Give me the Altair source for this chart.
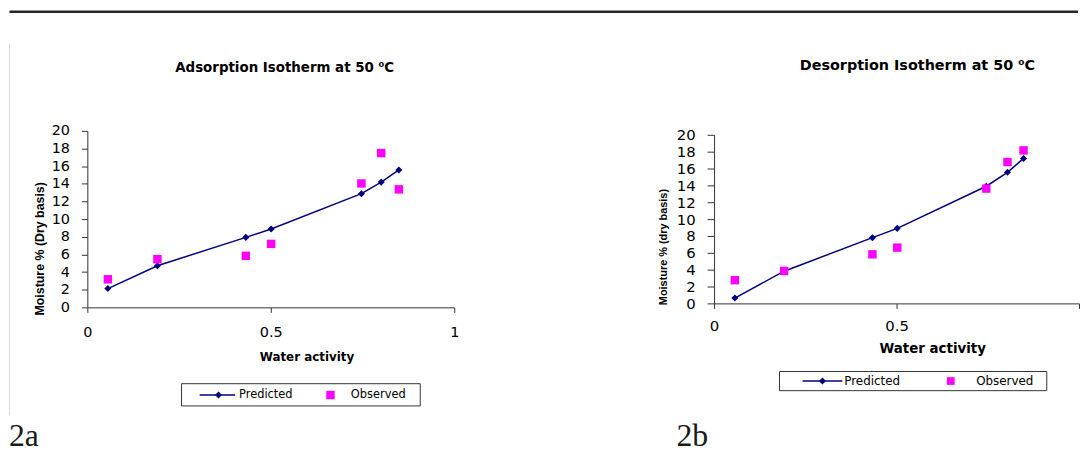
import altair as alt
import pandas as pd

# ---- data ----
aw_ads = [0.056, 0.191, 0.432, 0.501, 0.747, 0.801, 0.849]
pred_ads = [2.13, 4.72, 7.93, 8.88, 12.88, 14.19, 15.57]
obs_ads = [3.18, 5.46, 5.84, 7.19, 14.04, 17.48, 13.37]

aw_des = [0.057, 0.192, 0.434, 0.502, 0.746, 0.804, 0.848]
pred_des = [0.63, 3.82, 7.80, 8.90, 13.90, 15.55, 17.20]
obs_des = [2.75, 3.85, 5.82, 6.62, 13.62, 16.77, 18.15]

x_ticks = [0, 0.5, 1]
y_ticks = [0, 2, 4, 6, 8, 10, 12, 14, 16, 18, 20]

titles = ["Adsorption Isotherm at 50 \u2070C", "Desorption Isotherm at 50 \u2070C"]
y_titles = ["Moisture % (Dry basis)", "Moisture % (dry basis)"]
x_title = "Water activity"
legend_labels = ["Predicted", "Observed"]
panel_labels = ["2a", "2b"]

NAVY = "#000080"
MAGENTA = "#FF00FF"
one = pd.DataFrame({"k": [0]})


def panel(aw, pred, obs, w, h, lay, extra_x_axis=None):
    df = pd.DataFrame({"aw": aw, "pred": pred, "obs": obs})
    xs = alt.Scale(domain=[0, 1], nice=False, zero=False)
    ys = alt.Scale(domain=[0, 20], nice=False)
    xkw = dict(values=x_ticks, format="~g", title=x_title,
               titleX=lay["xtx"], titleY=lay["xty"], titleAlign="center",
               titleBaseline="middle", titleFontSize=lay["xtfs"],
               titleFont="DejaVu Sans", titleFontWeight="bold",
               labelPadding=lay["xlp"], tickSize=5,
               labelFontSize=lay["lfs"])
    if extra_x_axis:
        xkw.update(extra_x_axis)
    xaxis = alt.Axis(**xkw)
    yaxis = alt.Axis(values=y_ticks, format="d", title=lay["ytitle"],
                     titleX=lay["ytx"], titleY=lay["yty"], titleAlign="center",
                     titleBaseline="middle", titleFontSize=lay["ytfs"],
                     titleFont="Liberation Sans", titleFontWeight="bold",
                     labelPadding=12, tickSize=lay["yts"],
                     labelFontSize=lay["lfs"])
    base = alt.Chart(df)
    line = base.mark_line(color=NAVY, strokeWidth=1.5).encode(
        x=alt.X("aw:Q", scale=xs, axis=xaxis),
        y=alt.Y("pred:Q", scale=ys, axis=yaxis))
    dia = base.mark_point(shape="diamond", filled=True, color=NAVY, size=50, opacity=1).encode(
        x=alt.X("aw:Q", scale=xs, axis=xaxis),
        y=alt.Y("pred:Q", scale=ys, axis=yaxis))
    sq = base.mark_square(color=MAGENTA, size=72, opacity=1).encode(
        x=alt.X("aw:Q", scale=xs, axis=xaxis),
        y=alt.Y("obs:Q", scale=ys, axis=yaxis))

    a = alt.Chart(one)
    title = a.mark_text(font="DejaVu Sans", fontWeight="bold", fontSize=lay["tfs"],
                        align="center", baseline="middle", color="black").encode(
        x=alt.value(lay["tx"]), y=alt.value(lay["ty"]), text=alt.value(lay["title"]))
    lb = lay["lbox"]
    box = a.mark_rect(fill="white", stroke="#333333", strokeWidth=1).encode(
        x=alt.value(lb[0]), x2=alt.value(lb[1]), y=alt.value(lb[2]), y2=alt.value(lb[3]))
    ly = lay["ly"]
    lline = a.mark_rule(color=NAVY, strokeWidth=1.5).encode(
        x=alt.value(lay["l1"][0]), x2=alt.value(lay["l1"][1]), y=alt.value(ly))
    ldia = a.mark_point(shape="diamond", filled=True, color=NAVY, size=50, opacity=1).encode(
        x=alt.value(lay["ldia"]), y=alt.value(ly))
    lt1 = a.mark_text(font="DejaVu Sans", fontSize=lay["lgfs"], align="left",
                      baseline="middle", color="black").encode(
        x=alt.value(lay["lt1"]), y=alt.value(ly), text=alt.value(legend_labels[0]))
    lsq = a.mark_square(color=MAGENTA, size=lay["lsqs"], opacity=1).encode(
        x=alt.value(lay["lsq"]), y=alt.value(ly))
    lt2 = a.mark_text(font="DejaVu Sans", fontSize=lay["lgfs"], align="left",
                      baseline="middle", color="black").encode(
        x=alt.value(lay["lt2"]), y=alt.value(ly), text=alt.value(legend_labels[1]))

    layers = lay.get("pre", []) + [line, dia, sq, title, box, lline, ldia, lt1, lsq, lt2] + lay.get("post", [])
    return alt.layer(*layers).properties(width=w, height=h)


a = alt.Chart(one)
top_rule = a.mark_rule(color="#262626", strokeWidth=2.5).encode(
    x=alt.value(-78.5), x2=alt.value(999), y=alt.value(-120))
left_border = a.mark_rule(color="#d9d9d9", strokeWidth=1).encode(
    x=alt.value(-78.5), y=alt.value(-88), y2=alt.value(287))
lab_a = a.mark_text(font="Liberation Serif", fontSize=32, align="left",
                    baseline="alphabetic", color="#1a1a1a").encode(
    x=alt.value(-79), y=alt.value(317.5), text=alt.value(panel_labels[0]))
lab_b = a.mark_text(font="Liberation Serif", fontSize=32, align="left",
                    baseline="alphabetic", color="#1a1a1a").encode(
    x=alt.value(594), y=alt.value(317.5), text=alt.value(panel_labels[1]))

left_lay = dict(
    xtx=221, xty=49.7, xtfs=12, xlp=13.5, lfs=14.5,
    ytitle=y_titles[0], ytx=-48.3, yty=118.5, ytfs=12.5, yts=6,
    title=titles[0], tfs=13.5, tx=199, ty=-63.3,
    lbox=[95, 335.7, 255, 277.4], ly=266.4, l1=[113.3, 149], ldia=132.3,
    lt1=153, lsq=245.2, lsqs=72, lt2=265.7, lgfs=11.5,
    pre=[top_rule, left_border], post=[lab_a, lab_b])

right_lay = dict(
    xtx=220, xty=45.7, xtfs=13.5, xlp=10, lfs=15,
    ytitle=y_titles[1], ytx=-51.3, yty=112.7, ytfs=11, yts=7,
    title=titles[1], tfs=14.5, tx=205, ty=-69.3,
    lbox=[66, 335.5, 238.7, 258], ly=248.3, l1=[89.3, 129.3], ldia=109.3,
    lt1=131.3, lsq=238.7, lsqs=60, lt2=264.3, lgfs=12)

left = panel(aw_ads, pred_ads, obs_ads, 370, 178, left_lay)
right = panel(aw_des, pred_des, obs_des, 368, 170, right_lay,
              extra_x_axis=dict(labelExpr="datum.value == 1 ? '' : datum.label"))

chart = alt.hconcat(left, right, spacing=262, bounds="flush", center=True).properties(
    padding={"left": 0, "top": 0, "right": 0, "bottom": 0},
    background="white",
).configure_view(strokeWidth=0).configure_axis(
    domainColor="#333333", tickColor="#333333", labelColor="black",
    titleColor="black", grid=False, labelOverlap=False, labelFlush=False,
    labelFont="DejaVu Sans",
)

chart.save("out.html", embed_options={"renderer": "svg", "actions": False})
